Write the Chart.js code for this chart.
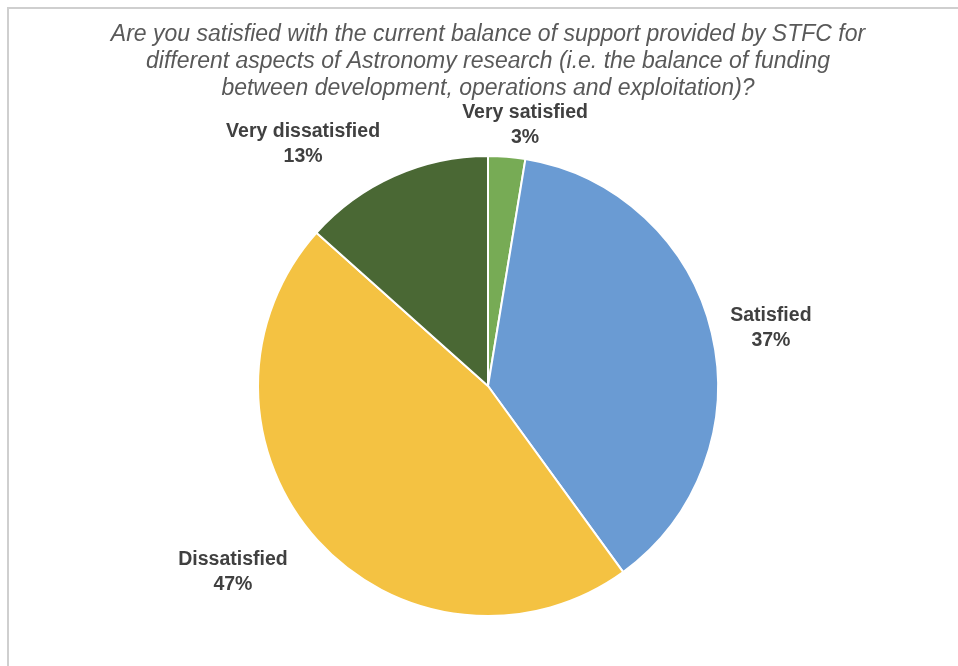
<!DOCTYPE html>
<html>
<head>
<meta charset="utf-8">
<script src="https://cdn.jsdelivr.net/npm/chart.js@4/dist/chart.umd.min.js"></script>
<style>
  html, body { margin: 0; padding: 0; background: #ffffff; }
  #wrap { position: relative; width: 958px; height: 666px; overflow: hidden; }
  #frame { position: absolute; left: 7px; top: 7px; width: 1000px; height: 1000px;
           border-top: 2px solid #cfcfcf; border-left: 2px solid #cfcfcf; box-sizing: border-box; }
  canvas { position: absolute; left: 0; top: 0; }
</style>
</head>
<body>
<div id="wrap">
  <div id="frame"></div>
  <canvas id="c" width="958" height="666"></canvas>
</div>
<script>
const titleLines = [
  'Are you satisfied with the current balance of support provided by STFC for',
  'different aspects of Astronomy research (i.e. the balance of funding',
  'between development, operations and exploitation)?'
];
const categories = ['Very satisfied', 'Satisfied', 'Dissatisfied', 'Very dissatisfied'];
const shares = [2.6, 37.4, 46.6, 13.4];
const percentLabels = ['3%', '37%', '47%', '13%'];
const sliceColors = ['#77AB55', '#6A9BD3', '#F4C242', '#4A6834'];

// label placement, relative to pie centre in units of the outer radius
const labelOffsets = [[0.161, -1.135], [1.230, -0.252], [-1.109, 0.809], [-0.804, -1.052]];

const sliceLabels = {
  id: 'sliceLabels',
  afterDatasetsDraw(chart) {
    const ctx = chart.ctx;
    const meta = chart.getDatasetMeta(0);
    ctx.save();
    ctx.font = 'bold 19.5px "Liberation Sans", Arial, sans-serif';
    ctx.fillStyle = '#404040';
    ctx.textAlign = 'center';
    ctx.textBaseline = 'middle';
    meta.data.forEach((arc, i) => {
      const p = arc.getProps(['x', 'y', 'outerRadius'], true);
      const cx = p.x + labelOffsets[i][0] * p.outerRadius;
      const cy = p.y + labelOffsets[i][1] * p.outerRadius;
      ctx.fillText(categories[i], cx, cy - 12.5);
      ctx.fillText(percentLabels[i], cx, cy + 12.5);
    });
    ctx.restore();
  }
};

new Chart(document.getElementById('c'), {
  type: 'pie',
  data: {
    labels: categories,
    datasets: [{
      data: shares,
      backgroundColor: sliceColors,
      borderColor: '#ffffff',
      borderWidth: 2
    }]
  },
  options: {
    responsive: false,
    animation: false,
    radius: 230,
    layout: { padding: { left: 18, right: 0, top: 0, bottom: 0 } },
    plugins: {
      legend: { display: false },
      tooltip: { enabled: false },
      title: {
        display: true,
        text: titleLines,
        color: '#595959',
        font: { family: '"Liberation Sans", Arial, sans-serif', size: 23, style: 'italic', weight: 'normal', lineHeight: 1.17 },
        padding: { top: 21, bottom: 4.3 }
      }
    }
  },
  plugins: [sliceLabels]
});
</script>
</body>
</html>
